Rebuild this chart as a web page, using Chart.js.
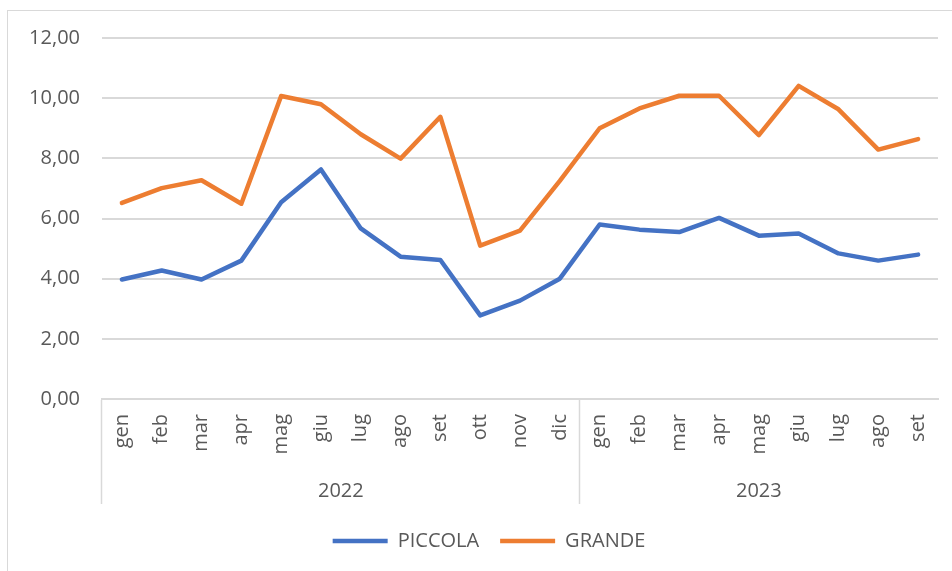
<!DOCTYPE html>
<html>
<head>
<meta charset="utf-8">
<script src="https://cdn.jsdelivr.net/npm/chart.js@4"></script>
<style>
  html, body { margin: 0; padding: 0; background: #ffffff; overflow: hidden; }
  #frame { position: absolute; left: 7px; top: 10px; width: 1000px; height: 600px;
           border-left: 1px solid #d9d9d9; border-top: 1px solid #d9d9d9; }
  #c { position: absolute; left: 0; top: 0; }
</style>
</head>
<body>
<div id="frame"></div>
<canvas id="c" width="952" height="571"></canvas>
<script>
// ---- data ----
const months = ['gen','feb','mar','apr','mag','giu','lug','ago','set','ott','nov','dic',
                'gen','feb','mar','apr','mag','giu','lug','ago','set'];
const years = ['2022', '2023'];
const yearMonthCounts = [12, 9];
const piccola = [3.97, 4.27, 3.97, 4.60, 6.54, 7.63, 5.67, 4.73, 4.62, 2.78, 3.27, 4.00,
                 5.80, 5.63, 5.55, 6.02, 5.43, 5.50, 4.84, 4.60, 4.80];
const grande  = [6.52, 7.01, 7.27, 6.49, 10.07, 9.80, 8.80, 7.99, 9.38, 5.10, 5.60, 7.25,
                 9.00, 9.66, 10.08, 10.08, 8.77, 10.41, 9.63, 8.29, 8.64];
const yTickLabels = ['0,00','2,00','4,00','6,00','8,00','10,00','12,00'];

// derived helpers for the year axis
const yearBoundaries = [0];
yearMonthCounts.forEach(n => yearBoundaries.push(yearBoundaries[yearBoundaries.length - 1] + n));
const yearCenters = yearMonthCounts.map((n, i) => yearBoundaries[i] + n / 2 - 0.5);

const GREY = '#595959';
const GRID = '#d9d9d9';
Chart.defaults.font.family = "'Open Sans', sans-serif";
Chart.defaults.font.size = 20;
Chart.defaults.color = GREY;

new Chart(document.getElementById('c'), {
  type: 'line',
  data: {
    labels: months,
    datasets: [
      { label: 'PICCOLA', data: piccola, borderColor: '#4472C4', backgroundColor: '#4472C4',
        borderWidth: 4.5, pointRadius: 0, tension: 0, borderCapStyle: 'round', borderJoinStyle: 'round' },
      { label: 'GRANDE', data: grande, borderColor: '#ED7D31', backgroundColor: '#ED7D31',
        borderWidth: 4.5, pointRadius: 0, tension: 0, borderCapStyle: 'round', borderJoinStyle: 'round' }
    ]
  },
  options: {
    responsive: false,
    animation: false,
    layout: { padding: { top: 38, right: 0, bottom: 10, left: 26 } },
    plugins: {
      title: { display: false },
      tooltip: { enabled: false },
      legend: {
        position: 'bottom',
        labels: {
          usePointStyle: true, pointStyle: 'line', pointStyleWidth: 55,
          color: GREY, font: { size: 20 }, padding: 21
        }
      }
    },
    scales: {
      y: {
        min: 0, max: 12,
        ticks: { stepSize: 2, padding: 22, color: GREY, font: { size: 20 },
                 callback: (v, i) => yTickLabels[i] },
        grid: { color: GRID, lineWidth: 2, drawTicks: false },
        border: { display: false },
        afterFit: s => { s.width = 76; }
      },
      yRight: {
        position: 'right',
        ticks: { display: false },
        grid: { display: false, drawTicks: false },
        border: { display: false },
        afterFit: s => { s.width = 14; }
      },
      x: {
        type: 'category',
        weight: 0,
        offset: true,
        ticks: { minRotation: 90, maxRotation: 90, autoSkip: false, padding: -90,
                 color: GREY, font: { size: 20 } },
        grid: {
          offset: true, drawOnChartArea: false, drawTicks: true, tickLength: 105,
          tickWidth: 1.5,
          tickColor: ctx => yearBoundaries.includes(ctx.index) ? GRID : 'rgba(0,0,0,0)',
          color: ctx => yearBoundaries.includes(ctx.index) ? GRID : 'rgba(0,0,0,0)'
        },
        border: { display: true, color: GRID, width: 2 },
        afterFit: s => { s.height = 58; }
      },
      x2: {
        type: 'linear',
        position: 'bottom',
        weight: 1,
        min: -0.5, max: yearBoundaries[yearBoundaries.length - 1] - 0.5,
        afterBuildTicks: s => { s.ticks = yearCenters.map(v => ({ value: v })); },
        ticks: { autoSkip: false, maxRotation: 0, minRotation: 0, padding: 22,
                 color: GREY, font: { size: 20 },
                 callback: (v, i) => years[i] },
        grid: { display: false, drawTicks: false },
        border: { display: false },
        afterFit: s => { s.height = 53; }
      }
    }
  }
});
</script>
</body>
</html>
